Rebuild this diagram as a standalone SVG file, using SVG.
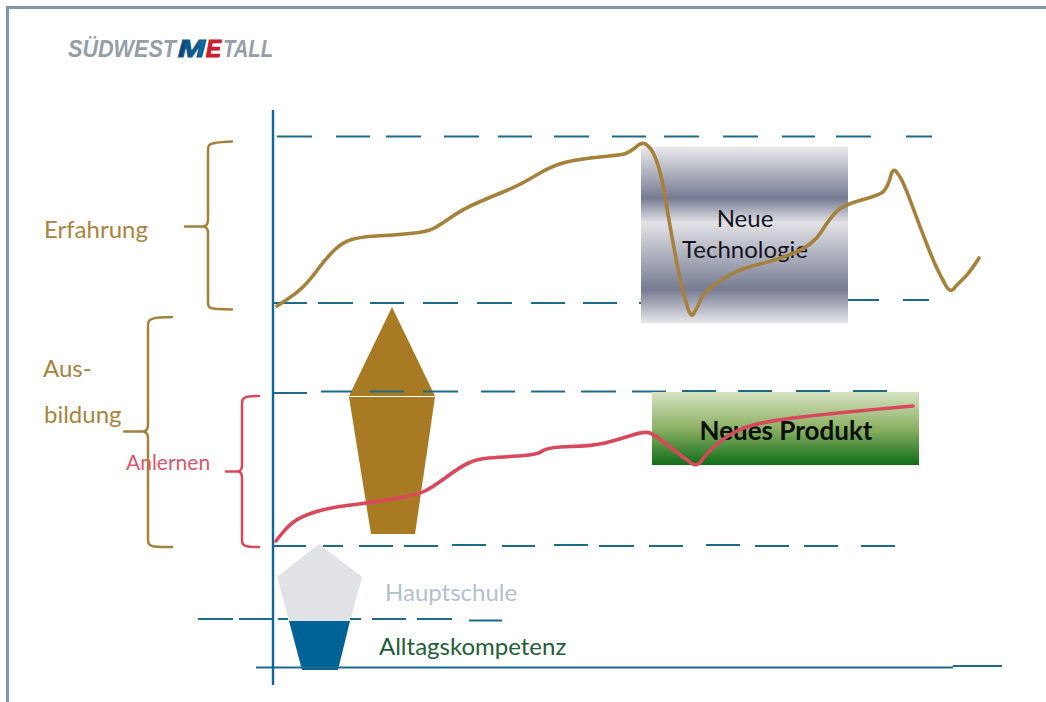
<svg xmlns="http://www.w3.org/2000/svg" width="1046" height="702" viewBox="0 0 1046 702">
<style>
.dash{fill:none;stroke:#1f6a88;stroke-width:2.2}
.brown{fill:none;stroke:#a5813c;stroke-width:2.5;stroke-linejoin:round;stroke-linecap:round}
.red{fill:none;stroke:#d9495c;stroke-width:2.5;stroke-linejoin:round;stroke-linecap:round}
.curve{stroke-width:3.6}
text{font-family:Lato,"Liberation Sans",sans-serif}
.lbl{font-size:24px}
.logo{font-family:"Liberation Sans",Arial,sans-serif;font-weight:bold;font-style:italic;font-size:24px}
</style>
<defs>
<linearGradient id="gGray" x1="0" y1="0" x2="0" y2="1">
<stop offset="0" stop-color="#e9e9ec"/><stop offset="0.29" stop-color="#767b92"/><stop offset="0.43" stop-color="#e2e2e6"/><stop offset="0.81" stop-color="#777c93"/><stop offset="1" stop-color="#e6e6ea"/>
</linearGradient>
<linearGradient id="gGreen" x1="0" y1="0" x2="0" y2="1">
<stop offset="0" stop-color="#d6e2c2"/><stop offset="0.5" stop-color="#8cb063"/><stop offset="1" stop-color="#0f6d18"/>
</linearGradient>
<linearGradient id="gM" x1="0" y1="0" x2="1" y2="0">
<stop offset="0" stop-color="#0b3c66"/><stop offset="1" stop-color="#1673b0"/>
</linearGradient>
</defs>
<rect width="1046" height="702" fill="#fff"/>
<g id="frame"><path d="M7.5,702V7.500H1046" fill="none" stroke="#7f97a8" stroke-width="3"/></g>
<g id="logo">
<text class="logo" x="68" y="57" fill="#949ea6" textLength="108" lengthAdjust="spacingAndGlyphs">SÜDWEST</text>
<text class="logo" x="178" y="57" fill="url(#gM)" stroke="#0f5a8e" stroke-width="1.2" textLength="27" lengthAdjust="spacingAndGlyphs">M</text>
<text class="logo" x="206" y="57" fill="#c8202f" stroke="#c8202f" stroke-width="1.2" textLength="15" lengthAdjust="spacingAndGlyphs">E</text>
<text class="logo" x="223" y="57" fill="#949ea6" textLength="50" lengthAdjust="spacingAndGlyphs">TALL</text>
</g>
<g id="pentagon"><polygon points="319,544 362,577 350,621 289,621 277,577" fill="#e0e2e6"/></g>
<g id="trapezoid"><polygon points="289,621 350,621 338,670 302,670" fill="#006296"/></g>
<g id="kite">
<polygon points="392,307 435,396 349,396" fill="#a97a24"/>
<polygon points="349,397 435,397 415,534 371,534" fill="#a97a24"/>
</g>
<g id="connectors">
<path class="dash" d="M277,136.500H312M336,136.500H370M386,136.500H421M444,136.500H479M498,136.500H532M554,136.500H589M612,136.500H646M664,136.500H699M723,136.500H758M782,136.500H815M836,136.500H871M906,136.500H932"/>
<path class="dash" d="M273,303H307M318,303H353M370,303H404M423,303H458M477,303H512M531,303H565M583,303H617M639,303H641M848,300H879M903,300H929"/>
<path class="dash" d="M273,393H307M321,391.500H352M370,391.500H404M423,391.500H458M481,391.500H515M531,391.500H565M581,391.500H616M632,391.500H666M682,391H716M738,391H772M796,391H830M853,391H887"/>
<path class="dash" d="M274,546H306M323,546H343M359,546H393M404,546H438M452,545H486M502,546H535M554,545H588M599,546H634M649,546H683M706,545H740M755,546H789M804,546H838M861,546H895"/>
<path class="dash" d="M198,619H233M239,619H272M278,619H288M350,619H361M372,619H406M417,619H452M469,620.500H502"/>
<path class="dash" d="M256,667.500H953M953,666H1002"/>
<path d="M273,110V685" fill="none" stroke="#0f6796" stroke-width="2.4"/>
<path d="M349,396.500H435" stroke="#fff" stroke-width="1" fill="none"/>
</g>
<g id="neue-technologie">
<rect x="641" y="147" width="207" height="176" fill="url(#gGray)"/>
<text class="lbl" x="745" y="227" text-anchor="middle" fill="#15151f">Neue</text>
<text class="lbl" x="745" y="258" text-anchor="middle" fill="#15151f">Technologie</text>
</g>
<g id="neues-produkt">
<rect x="652" y="392" width="267" height="73" fill="url(#gGreen)"/>
<text x="786" y="440" text-anchor="middle" fill="#0a0f0a" font-size="26" font-weight="bold">Neues Produkt</text>
</g>
<g id="labels">
<text class="lbl" x="44" y="238" fill="#a98440">Erfahrung</text>
<text class="lbl" x="43" y="377" fill="#a98440">Aus-</text>
<text class="lbl" x="44" y="423" fill="#a98440">bildung</text>
<text x="126" y="470" fill="#d9576a" font-size="21">Anlernen</text>
<text class="lbl" x="385" y="601" fill="#b4c0d0">Hauptschule</text>
<text class="lbl" x="379" y="655" fill="#1f5e3a">Alltagskompetenz</text>
</g>
<g id="brackets">
<path class="brown" d="M232,141.500C222,142 215,142 211,144Q208,145 208,150V220Q208,226 203,226.500H185H203Q208,227 208,233V303Q208,308 213,308.500C220,309.500 226,309 232,309.500"/>
<path class="brown" d="M172,317C162,317.500 156,317 152,319Q148,320 148,325V425Q148,431 143,431.500H124H143Q148,432 148,438V540Q148,545 152,546C158,547.500 165,547 172,547"/>
<path class="red" d="M259,396C252,396 248,396 245,397.500Q242,399 242,403V465Q242,471 238,471.500H226H238Q242,472 242,478V540Q242,545 246,546C250,547.500 254,547 259,547"/>
</g>
<g id="curves">
<path class="brown curve" d="M277,306L287,299.500Q297,293 303.500,286.500Q310,280 318.500,268.500Q327,257 335,249.500Q343,242 351.500,239.500Q360,237 376.500,236Q393,235 410,233.500Q427,232 433.500,228.500Q440,225 451.500,217Q463,209 478,202.500Q493,196 506.500,190.500Q520,185 536.500,175Q553,165 566.500,162Q580,159 600,157Q620,155 624,154Q628,153 635.500,147.500Q643,140 648,146Q653,150 657.500,163.500Q662,177 666,202Q670,227 676,258.500Q682,290 686.500,303.500Q691,321 694.500,312Q698,307 700,301Q702,295 711,287.500Q720,280 731.500,274Q743,268 760,264Q777,260 795,252.500Q813,245 821.500,231.500Q830,218 836.500,211.500Q843,205 861.500,200Q880,195 883.500,191.500Q887,188 890,178.500Q893,165 897.500,173.500Q902,178 911,202.500Q920,227 928.500,248.500Q937,270 943.500,281Q950,296 955,287Q960,282 965,277Q970,272 979,258"/>
<path class="red curve" d="M276,541L281.500,534Q287,527 293.500,522Q300,517 313.500,512.500Q327,508 347,505.500Q367,503 392,499Q417,495 425,491Q433,487 446.500,477Q460,467 468.500,463Q477,459 488.500,458Q500,457 518.500,456Q537,455 542.500,451Q548,447 570.500,446.500Q593,446 605,443Q617,440 631,435.500Q645,431 650,433Q655,435 667.500,445Q680,455 688.500,461Q697,469 702,460Q707,453 716,445Q725,437 739,430Q753,423 793,418Q833,413 913,406"/>
</g>
</svg>
